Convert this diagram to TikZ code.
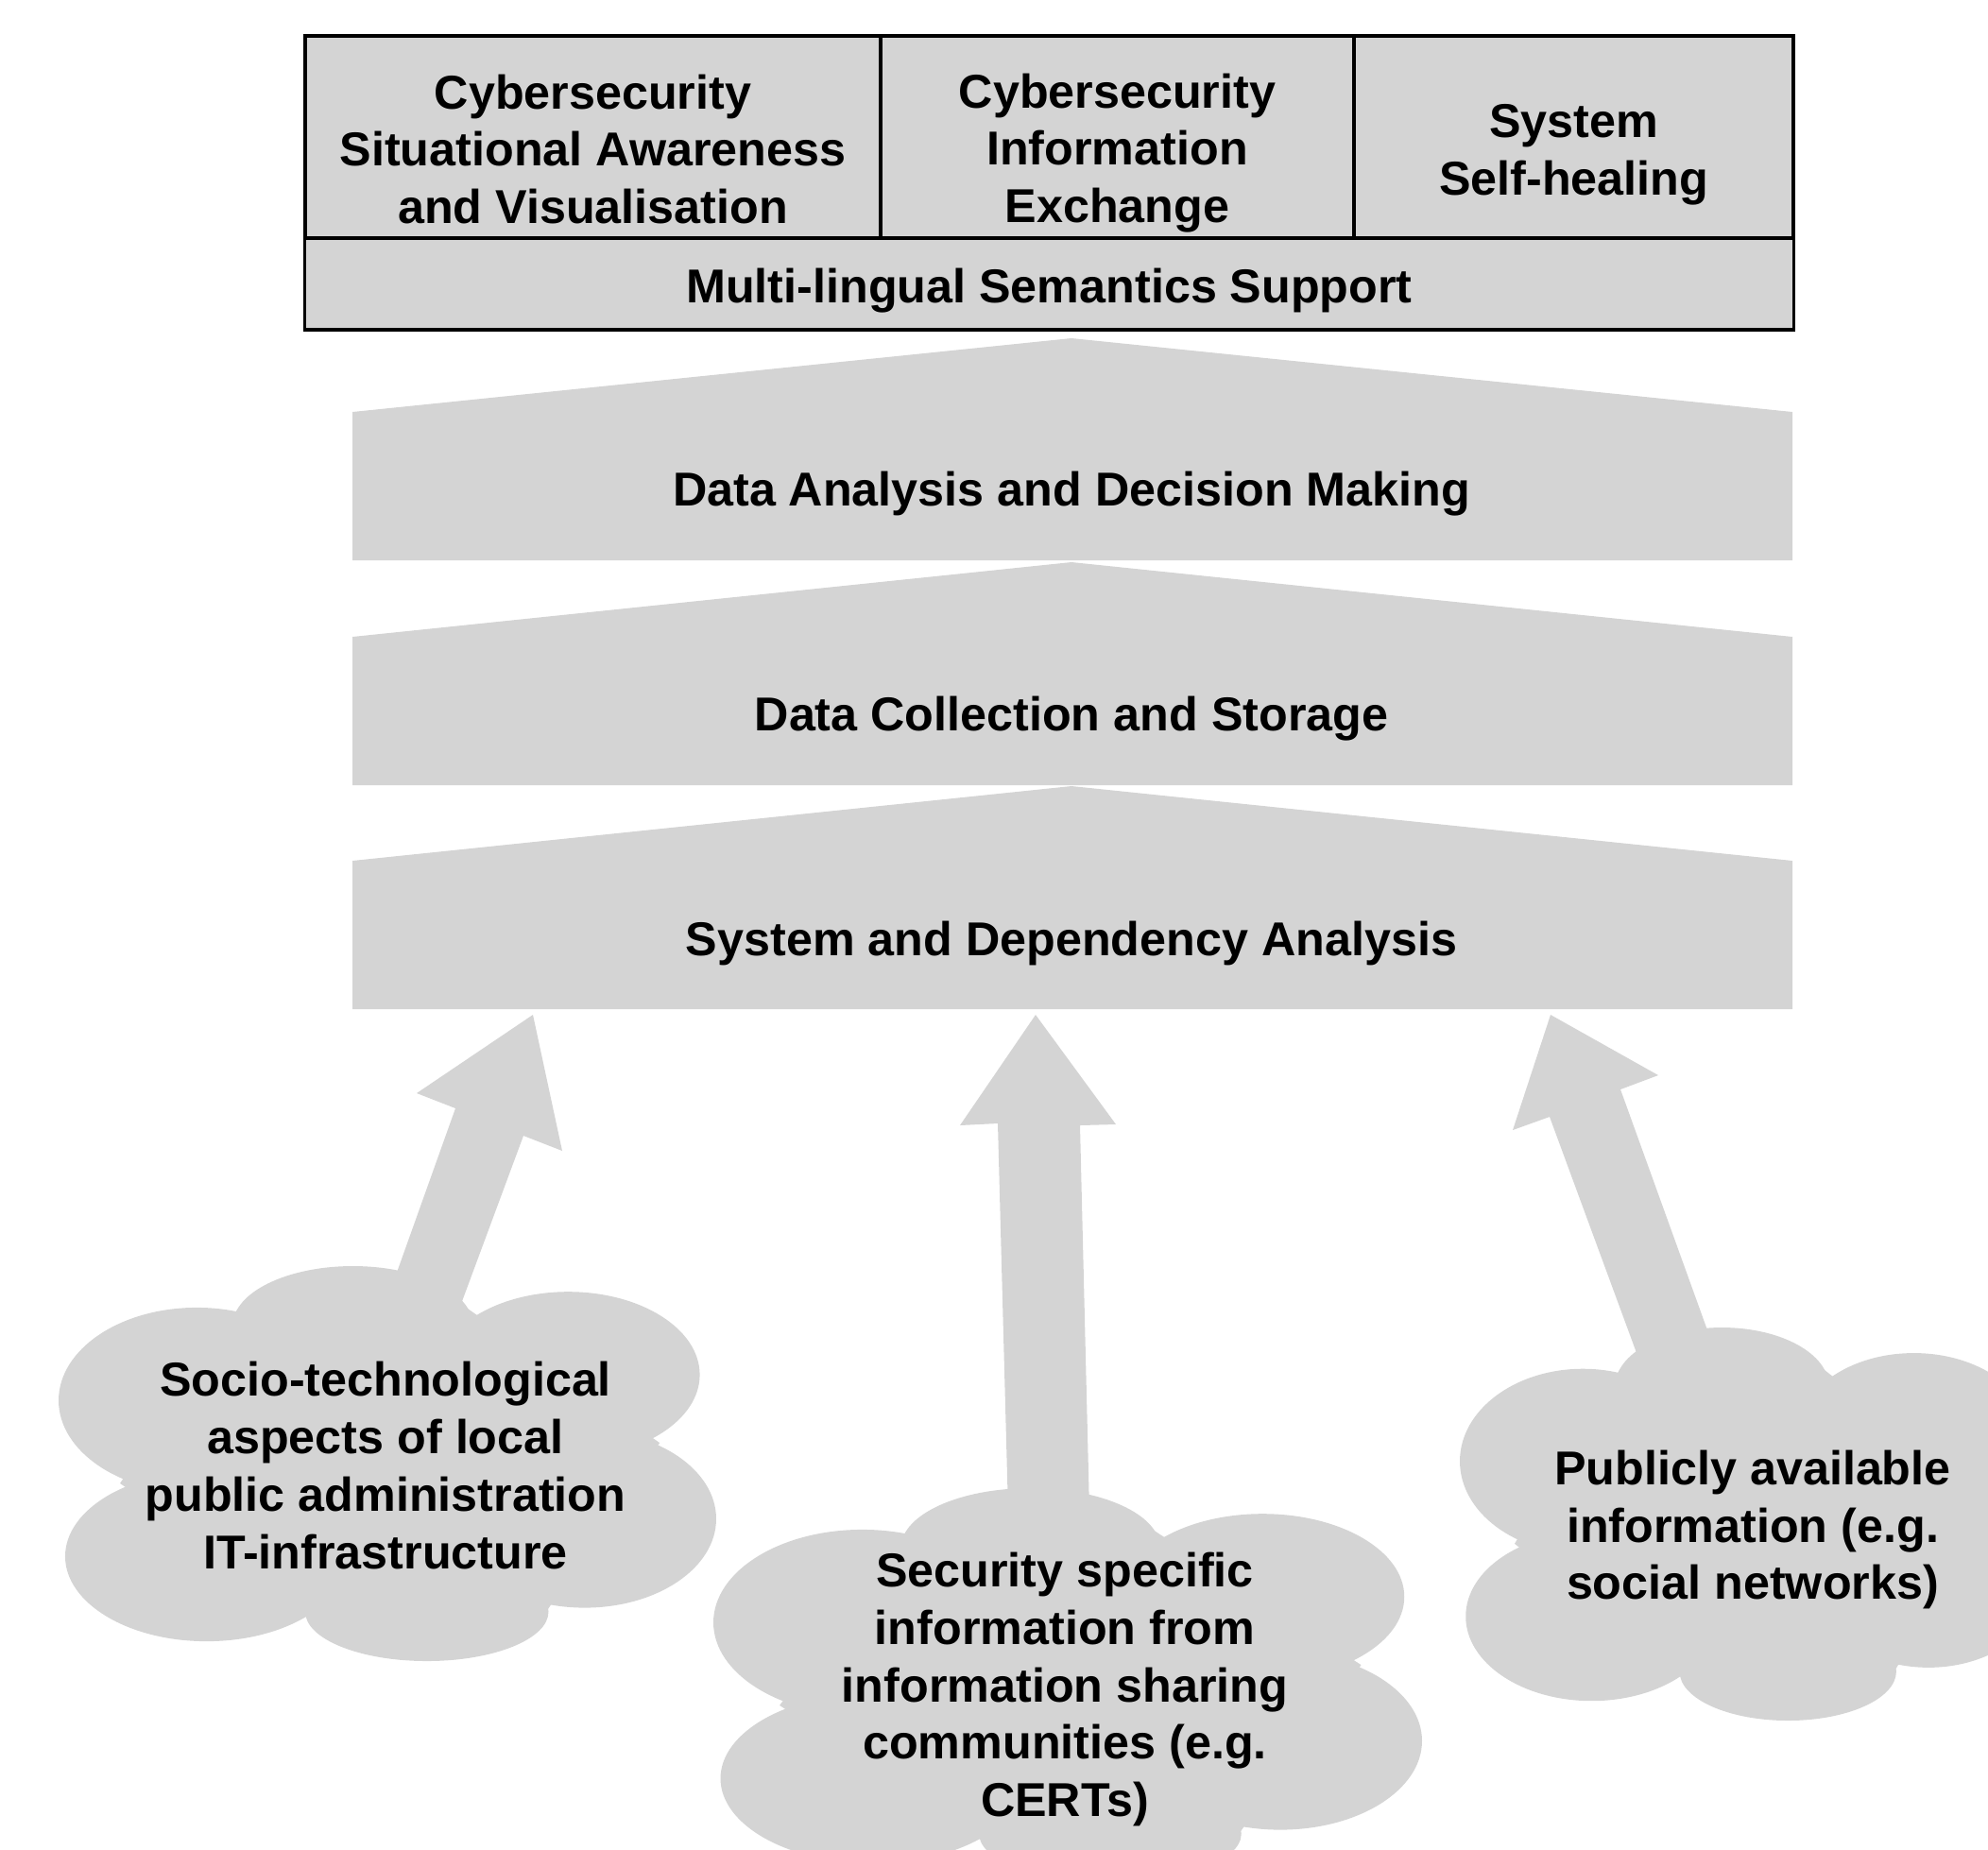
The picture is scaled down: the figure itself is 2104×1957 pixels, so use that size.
\documentclass[tikz,border=0pt]{standalone}
\usepackage{fontspec}
\setmainfont{Liberation Sans}
\definecolor{boxgray}{RGB}{212,212,212}
% cloud made of overlapping lobes, in a unit box scaled to the cloud size
\newcommand\cloudblob[4]{%
\begin{scope}[shift={(#1,#2)}, xscale=#3, yscale=#4]
\fill[boxgray] (-0.105,-0.70) ellipse [x radius=0.365, y radius=0.30];
\fill[boxgray] (0.55,-0.45) ellipse [x radius=0.40, y radius=0.42];
\fill[boxgray] (0.60,0.28) ellipse [x radius=0.40, y radius=0.45];
\fill[boxgray] (0.12,0.75) ellipse [x radius=0.37, y radius=0.25];
\fill[boxgray] (-0.55,0.47) ellipse [x radius=0.43, y radius=0.43];
\fill[boxgray] (-0.58,-0.32) ellipse [x radius=0.42, y radius=0.47];
\fill[boxgray] (0,0) ellipse [x radius=0.75, y radius=0.75];
\fill[boxgray] (-0.454,-0.785) -- (0.244,-0.785) -- (0.828,-0.105) -- (0.471,0.78) -- (-0.233,0.78) -- (-0.813,0.10) -- cycle;
\end{scope}}
\begin{document}
\begin{tikzpicture}[x=0.01cm,y=-0.01cm,
  lbl/.style={font=\fontsize{14.3}{17.3}\selectfont\bfseries, align=center, inner sep=0pt},
  cell/.style={draw=black, line width=1.1pt, fill=boxgray, rectangle, inner sep=0pt},
  layer/.style={fill=boxgray}
]
\useasboundingbox (0,0) rectangle (2104,1957);
\clip (0,0) rectangle (2104,1957);

% top box
\node[cell, minimum width=6.09cm, minimum height=2.14cm] (c1) at (627.5,145) {};
\node[cell, minimum width=5.01cm, minimum height=2.14cm] (c2) at (1182.5,145) {};
\node[cell, minimum width=4.65cm, minimum height=2.14cm] (c3) at (1665.5,145) {};
\node[cell, minimum width=15.75cm, minimum height=0.97cm] (c4) at (1110.5,300.5) {};
\node[lbl] (t1) at (627.5,158) {Cybersecurity\\Situational Awareness\\and Visualisation};
\node[lbl] (t2) at (1182.5,162) {Cybersecurity\\Information\\Exchange};
\node[lbl] (t3) at (1665.5,164) {System\\Self-healing};
\node[lbl] (t4) at (1110.5,307.5) {Multi-lingual Semantics Support};

% layers
\fill[layer] (373,436) -- (1134,358) -- (1897,436) -- (1897,593) -- (373,593) -- cycle;
\fill[layer] (373,674) -- (1134,595) -- (1897,674) -- (1897,831) -- (373,831) -- cycle;
\fill[layer] (373,911) -- (1134,832) -- (1897,911) -- (1897,1068) -- (373,1068) -- cycle;
\node[lbl] (l1) at (1134,523) {Data Analysis and Decision Making};
\node[lbl] (l2) at (1134,761) {Data Collection and Storage};
\node[lbl] (l3) at (1134,998) {System and Dependency Analysis};

% arrows
\fill[layer] (564,1074) -- (595,1218) -- (554,1202) -- (488,1380) -- (417,1355) -- (482,1173) -- (441,1157) -- cycle;
\fill[layer] (1096,1074) -- (1181,1190) -- (1143,1191) -- (1153,1600) -- (1067,1600) -- (1056,1189) -- (1016,1191) -- cycle;
\fill[layer] (1641,1074) -- (1755,1138) -- (1715,1153) -- (1815,1430) -- (1735,1440) -- (1640,1182) -- (1601,1196) -- cycle;

% clouds
\cloudblob{410}{1549}{348}{209}
\cloudblob{1130}{1784}{375}{209}
\cloudblob{1855}{1613}{310}{208}
\node[lbl] (ct1) at (408,1551) {Socio-technological\\aspects of local\\public administration\\IT-infrastructure};
\node[lbl] (ct2) at (1127,1788) {Security specific\\information from\\information sharing\\communities (e.g.\\CERTs)};
\node[lbl] (ct3) at (1855,1619) {Publicly available\\information (e.g.\\social networks)};
\end{tikzpicture}
\end{document}
